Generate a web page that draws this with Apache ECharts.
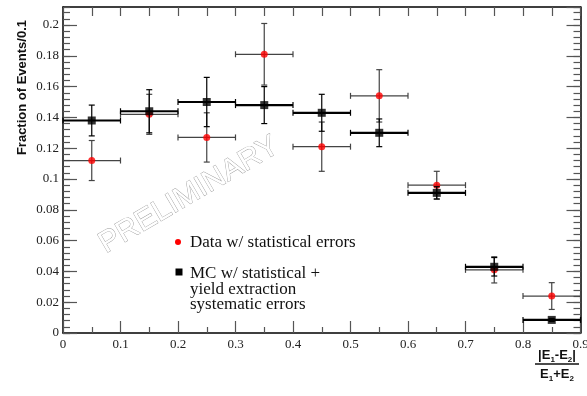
<!DOCTYPE html>
<html>
<head>
<meta charset="utf-8">
<script src="https://cdn.jsdelivr.net/npm/echarts@6/dist/echarts.min.js"></script>
<style>
html,body{margin:0;padding:0;background:#fff;}
#chart{width:587px;height:396px;}
</style>
</head>
<body>
<div id="chart"></div>
<script>
// ---- data ----
const binCenters = [0.05, 0.15, 0.25, 0.35, 0.45, 0.55, 0.65, 0.75, 0.85];
const binHalfWidth = 0.05;
const dataY   = [0.112, 0.142, 0.127, 0.181, 0.121, 0.154, 0.096, 0.041, 0.024];
const dataErr = [0.013, 0.013, 0.016, 0.020, 0.016, 0.017, 0.009, 0.0085, 0.0087];
const mcY     = [0.138, 0.144, 0.150, 0.148, 0.143, 0.130, 0.091, 0.043, 0.0085];
const mcErr   = [0.010, 0.014, 0.016, 0.012, 0.012, 0.009, 0.004, 0.006, 0.001];
const legendData = 'Data w/ statistical errors';
const legendMC = ['MC w/ statistical +', 'yield extraction', 'systematic errors'];
const yTitle = 'Fraction of Events/0.1';

const chart = echarts.init(document.getElementById('chart'), null, {renderer: 'canvas'});

function errRender(color, hLine, vLine) {
  return function (params, api) {
    const x = api.value(0), y = api.value(1), e = api.value(2);
    const l = api.coord([x - binHalfWidth, y]);
    const r = api.coord([x + binHalfWidth, y]);
    const t = api.coord([x, y + e]);
    const b = api.coord([x, y - e]);
    const st = {stroke: color, lineWidth: vLine};
    const cap = 3;
    return {
      type: 'group',
      children: [
        {type: 'line', shape: {x1: l[0], y1: l[1], x2: r[0], y2: r[1]}, style: {stroke: color, lineWidth: hLine}},
        {type: 'line', shape: {x1: t[0], y1: t[1], x2: b[0], y2: b[1]}, style: st},
        {type: 'line', shape: {x1: l[0], y1: l[1] - cap, x2: l[0], y2: l[1] + cap}, style: st},
        {type: 'line', shape: {x1: r[0], y1: r[1] - cap, x2: r[0], y2: r[1] + cap}, style: st},
        {type: 'line', shape: {x1: t[0] - cap, y1: t[1], x2: t[0] + cap, y2: t[1]}, style: st},
        {type: 'line', shape: {x1: b[0] - cap, y1: b[1], x2: b[0] + cap, y2: b[1]}, style: st}
      ]
    };
  };
}

const labelFont = {fontFamily: 'Liberation Serif', fontSize: 13, color: '#222'};
const yMax = 0.2117;
const frameLine = {show: true, onZero: false, lineStyle: {color: '#000', width: 1.5}};
const noLine = {show: false, onZero: false};
const tickStyle = {color: '#555', width: 1.2};

const option = {
  animation: false,
  backgroundColor: '#fff',
  grid: {left: 63, right: 6.5, top: 7, bottom: 63, containLabel: false, outerBoundsMode: 'none'},
  xAxis: [
    {
      type: 'value', position: 'bottom', min: 0, max: 0.9, interval: 0.1,
      axisLine: frameLine,
      axisTick: {show: true, inside: true, length: 12, lineStyle: tickStyle},
      minorTick: {show: true, splitNumber: 2, length: 6, lineStyle: tickStyle},
      splitLine: {show: false},
      axisLabel: Object.assign({margin: 5, hideOverlap: false}, labelFont)
    },
    {
      type: 'value', position: 'top', min: 0, max: 0.9, interval: 0.05,
      axisLine: frameLine,
      axisTick: {show: true, inside: true, length: 9, lineStyle: tickStyle},
      splitLine: {show: false},
      axisLabel: {show: false}
    }
  ],
  yAxis: [
    {
      type: 'value', position: 'left', min: 0, max: yMax, interval: 0.02,
      axisLine: frameLine,
      axisTick: {show: true, inside: true, length: 14, lineStyle: tickStyle},
      splitLine: {show: false},
      axisLabel: Object.assign({margin: 4, showMaxLabel: false}, labelFont)
    },
    {
      type: 'value', position: 'left', min: 0, max: yMax, interval: 0.004,
      axisLine: noLine,
      axisTick: {show: true, inside: true, length: 7, lineStyle: tickStyle},
      splitLine: {show: false},
      axisLabel: {show: false}
    },
    {
      type: 'value', position: 'right', min: 0, max: yMax, interval: 0.02,
      axisLine: frameLine,
      axisTick: {show: true, inside: true, length: 14, lineStyle: tickStyle},
      splitLine: {show: false},
      axisLabel: {show: false}
    },
    {
      type: 'value', position: 'right', min: 0, max: yMax, interval: 0.004,
      axisLine: noLine,
      axisTick: {show: true, inside: true, length: 7, lineStyle: tickStyle},
      splitLine: {show: false},
      axisLabel: {show: false}
    }
  ],
  series: [
    {
      type: 'custom', name: 'dataErr', xAxisIndex: 0, yAxisIndex: 0,
      renderItem: errRender('#444', 1.2, 1.2),
      data: binCenters.map((x, i) => [x, dataY[i], dataErr[i]]),
      z: 2
    },
    {
      type: 'scatter', name: 'Data', xAxisIndex: 0, yAxisIndex: 0,
      symbol: 'circle', symbolSize: 7,
      itemStyle: {color: '#ff0000'},
      data: binCenters.map((x, i) => [x, dataY[i]]),
      z: 3
    },
    {
      type: 'custom', name: 'mcErr', xAxisIndex: 0, yAxisIndex: 0,
      renderItem: errRender('#000', 2.2, 1.2),
      data: binCenters.map((x, i) => [x, mcY[i], mcErr[i]]),
      z: 4
    },
    {
      type: 'scatter', name: 'MC', xAxisIndex: 0, yAxisIndex: 0,
      symbol: 'rect', symbolSize: 8,
      itemStyle: {color: '#000'},
      data: binCenters.map((x, i) => [x, mcY[i]]),
      z: 5
    }
  ],
  graphic: [
    {
      type: 'text', x: 189, y: 195, rotation: 0.53, z: 1,
      style: {
        text: 'PRELIMINARY', fontFamily: 'Liberation Sans', fontSize: 30,
        fill: '#fff', stroke: '#999', lineWidth: 0.8,
        align: 'center', verticalAlign: 'middle'
      }
    },
    {
      type: 'text', x: 22, y: 20, rotation: Math.PI / 2,
      style: {
        text: yTitle, fontFamily: 'Liberation Sans', fontWeight: 'bold', fontSize: 13,
        fill: '#111', align: 'right', verticalAlign: 'middle'
      }
    },
    {
      type: 'text', x: 557, y: 355,
      style: {
        text: '{b||E}{s|1}{b|-E}{s|2}{b||}',
        align: 'center', verticalAlign: 'middle',
        rich: {
          b: {fontFamily: 'Liberation Sans', fontWeight: 'bold', fontSize: 13, fill: '#111', lineHeight: 16},
          s: {fontFamily: 'Liberation Sans', fontWeight: 'bold', fontSize: 8, fill: '#111', lineHeight: 16, verticalAlign: 'bottom', padding: [0, 0, -1, 0]}
        }
      }
    },
    {
      type: 'line', shape: {x1: 535, y1: 364, x2: 579, y2: 364},
      style: {stroke: '#111', lineWidth: 1.3}
    },
    {
      type: 'text', x: 557, y: 374,
      style: {
        text: '{b|E}{s|1}{b|+E}{s|2}',
        align: 'center', verticalAlign: 'middle',
        rich: {
          b: {fontFamily: 'Liberation Sans', fontWeight: 'bold', fontSize: 13, fill: '#111', lineHeight: 16},
          s: {fontFamily: 'Liberation Sans', fontWeight: 'bold', fontSize: 8, fill: '#111', lineHeight: 16, verticalAlign: 'bottom', padding: [0, 0, -1, 0]}
        }
      }
    },
    {
      type: 'circle', shape: {cx: 178, cy: 242, r: 3}, style: {fill: '#ff0000'}
    },
    {
      type: 'text', x: 190, y: 243,
      style: {
        text: legendData, fontFamily: 'Liberation Serif', fontSize: 17,
        fill: '#111', align: 'left', verticalAlign: 'middle'
      }
    },
    {
      type: 'rect', shape: {x: 175.5, y: 268.5, width: 7, height: 7}, style: {fill: '#000'}
    },
    {
      type: 'text', x: 190, y: 266,
      style: {
        text: legendMC.join('\n'), fontFamily: 'Liberation Serif', fontSize: 17,
        lineHeight: 15.5, fill: '#111', align: 'left', verticalAlign: 'top'
      }
    }
  ]
};

chart.setOption(option);
</script>
</body>
</html>
